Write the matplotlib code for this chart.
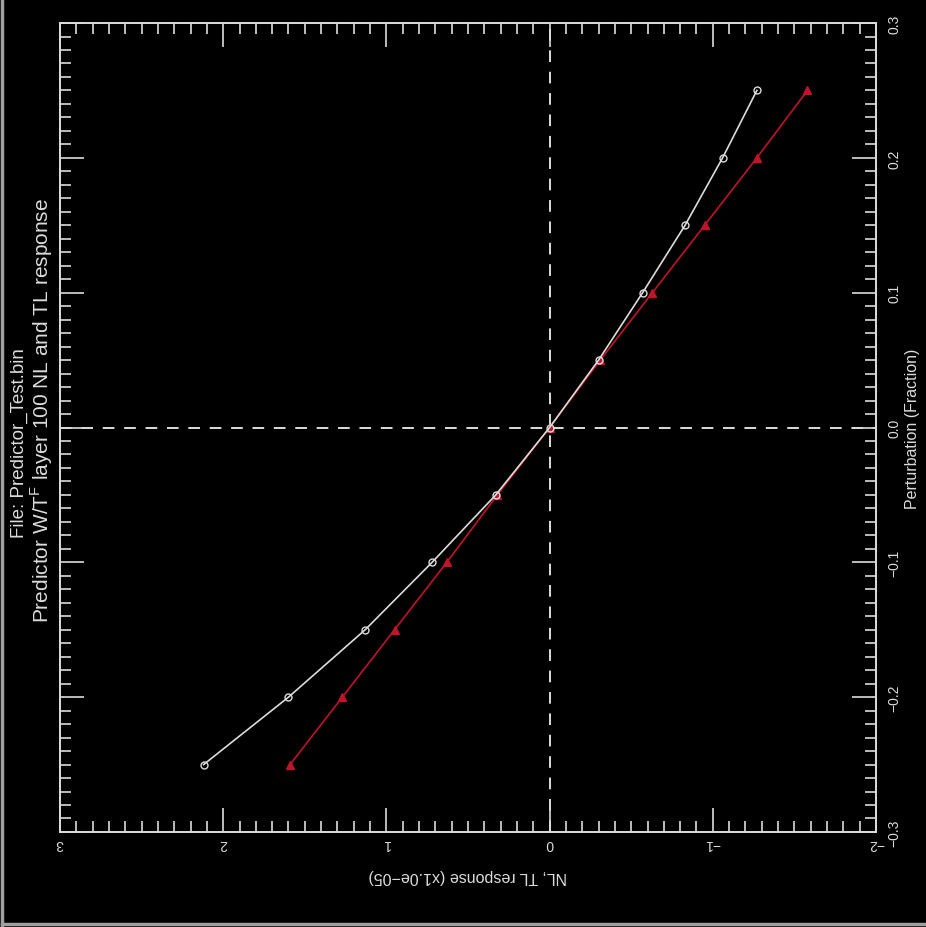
import matplotlib
matplotlib.use("Agg")
import matplotlib.pyplot as plt
from matplotlib.ticker import FixedLocator, FixedFormatter, MultipleLocator
from matplotlib.lines import Line2D

plt.rcParams['font.family'] = ['Liberation Sans', 'DejaVu Sans']
plt.rcParams['mathtext.fontset'] = 'custom'
plt.rcParams['mathtext.rm'] = 'Liberation Sans'

# ----- data -----
perturbation = [-0.25, -0.20, -0.15, -0.10, -0.05, 0.0, 0.05, 0.10, 0.15, 0.20, 0.25]
nl_response = [2.12, 1.60, 1.13, 0.72, 0.33, 0.0, -0.30, -0.57, -0.83, -1.06, -1.27]
tl_response = [1.59, 1.27, 0.95, 0.63, 0.32, 0.0, -0.31, -0.63, -0.95, -1.27, -1.58]

x_ticks = [3, 2, 1, 0, -1, -2]
x_ticklabels = ["3", "2", "1", "0", "\u22121", "\u22122"]
y_ticks = [-0.3, -0.2, -0.1, 0.0, 0.1, 0.2, 0.3]
y_ticklabels = ["\u22120.3", "\u22120.2", "\u22120.1", "0.0", "0.1", "0.2", "0.3"]

title1 = "File: Predictor_Test.bin"
title2 = r"Predictor W/T$^{\rm F}$ layer 100 NL and TL response"
xlabel = "NL, TL response (x1.0e\u221205)"
ylabel = "Perturbation (Fraction)"

fg = '#dcdcdc'
red = '#c0142a'

# ----- figure -----
fig = plt.figure(figsize=(9.26, 9.28), dpi=100, facecolor='black')
ax = fig.add_axes([0.0648, 0.1024, 0.8812, 0.8717], facecolor='black')

# dashed zero lines
ax.axhline(0, color=fg, lw=1.4, ls=(0, (6, 5)), zorder=1)
ax.axvline(0, color=fg, lw=1.4, ls=(0, (6, 5)), zorder=1)

ax.plot(nl_response, perturbation, color=fg, lw=1.2, marker='o', ms=5,
        mfc='none', mec=fg, mew=1.0, zorder=3)
ax.plot(tl_response, perturbation, color=red, lw=1.2, marker='^', ms=6,
        mfc=red, mec=red, zorder=2)

ax.set_xlim(3, -2)
ax.set_ylim(-0.3, 0.3)

ax.xaxis.set_major_locator(FixedLocator(x_ticks))
ax.xaxis.set_major_formatter(FixedFormatter(x_ticklabels))
ax.xaxis.set_minor_locator(MultipleLocator(0.1))
ax.yaxis.set_major_locator(FixedLocator(y_ticks))
ax.yaxis.set_major_formatter(FixedFormatter(y_ticklabels))
ax.yaxis.set_minor_locator(MultipleLocator(0.01))

ax.yaxis.tick_right()
ax.yaxis.set_label_position('right')

ax.tick_params(which='both', direction='in', top=True, bottom=True,
               left=True, right=True, color=fg, labelcolor=fg, width=1.2)
ax.tick_params(which='major', length=17, labelsize=10)
ax.tick_params(which='minor', length=8)
ax.tick_params(axis='x', labelrotation=180, pad=3)
ax.tick_params(axis='y', labelrotation=90, pad=8)
for lab in ax.get_yticklabels():
    lab.set_va('center')

for s in ax.spines.values():
    s.set_color(fg)
    s.set_linewidth(1.4)

ax.set_xlabel(xlabel, color=fg, fontsize=11.5, rotation=180, labelpad=13)
ax.set_ylabel(ylabel, color=fg, fontsize=11.5, rotation=90, labelpad=3)

# title, rotated on the left side
fig.text(19 / 926, 1 - 443 / 928, title1, color=fg, fontsize=13.5,
         rotation=90, ha='center', va='center')
fig.text(42 / 926, 1 - 410 / 928, title2, color=fg, fontsize=15,
         rotation=90, ha='center', va='center')

# gray picture border on left and bottom
fig.add_artist(Line2D([0.002, 0.002], [0.002, 1], transform=fig.transFigure,
                      color='#a0a0a0', lw=2.5))
fig.add_artist(Line2D([0.002, 1], [0.003, 0.003], transform=fig.transFigure,
                      color='#a0a0a0', lw=2.5))

fig.savefig('out.png', dpi=100, facecolor='black')
